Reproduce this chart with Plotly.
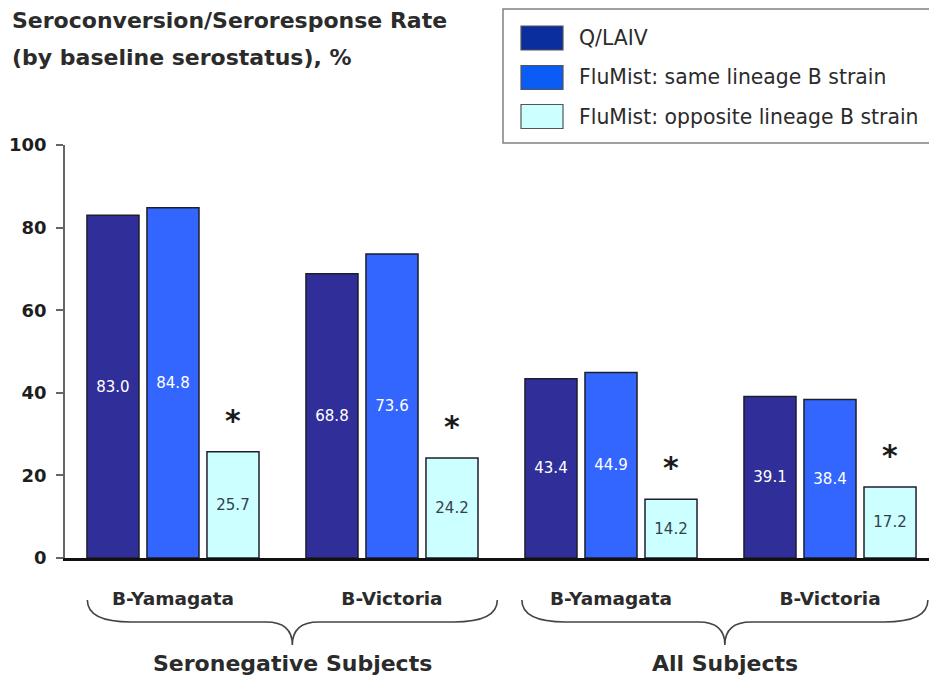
import plotly.graph_objects as go

# --- data ---------------------------------------------------------------
strains = ["B-Yamagata", "B-Victoria", "B-Yamagata", "B-Victoria"]
populations = ["Seronegative Subjects", "All Subjects"]
series_names = ["Q/LAIV", "FluMist: same lineage B strain", "FluMist: opposite lineage B strain"]
q_laiv = [83.0, 68.8, 43.4, 39.1]
same_lineage = [84.8, 73.6, 44.9, 38.4]
opposite_lineage = [25.7, 24.2, 14.2, 17.2]
significant = ["*", "*", "*", "*"]   # flags drawn above the opposite-lineage bars
y_ticks = [0, 20, 40, 60, 80, 100]

# --- styling ------------------------------------------------------------
bar_colors = ["#302F99", "#3366FF", "#CCFFFF"]
swatch_colors = ["#0B2E9E", "#0B5CF5", "#CCFFFF"]
label_colors = ["#FFFFFF", "#FFFFFF", "#33404A"]
FONT = "DejaVu Sans"
TEXT = "#2B2B2B"

W, H = 929, 675
ML, MR, MT, MB = 65, 0, 145, 117
PW, PH = W - ML - MR, H - MT - MB
BARGAP, GROUPGAP = 0.178, 0.133


def px_x(x):
    return (x - ML) / PW


def px_y(y):
    return (H - MB - y) / PH


x_pos = list(range(len(strains)))
series = [q_laiv, same_lineage, opposite_lineage]

fig = go.Figure()
for name, vals, col, lc in zip(series_names, series, bar_colors, label_colors):
    fig.add_trace(go.Bar(
        x=x_pos, y=vals, name=name, showlegend=False,
        marker=dict(color=col, line=dict(color="#1E1E2A", width=1.5)),
        text=[f"{v:.1f}" for v in vals], textposition="inside",
        insidetextanchor="middle", textangle=0,
        textfont=dict(family=FONT, size=15, color=lc),
        hoverinfo="skip",
    ))

# asterisks above the opposite-lineage bars
slot = (1 - BARGAP) / 3
for i, (v, mark) in enumerate(zip(opposite_lineage, significant)):
    fig.add_annotation(x=i + slot, y=v, xref="x", yref="y", text=mark,
                       showarrow=False, yanchor="bottom", yshift=12,
                       font=dict(family=FONT, size=30, color="#1A1A1A", weight="bold"))

# curly braces grouping the strains by population
brace_spans = [(0.545, 0.936), (2.52, 0.927)]   # (centre, half-width) in category units
d_end, d_tip = 0.2, 0.12
y_end, y_mid, y_tip = px_y(600), px_y(622), px_y(645)
for pop, (c, half) in zip(populations, brace_spans):
    x0, x1 = c - half, c + half
    path = (f"M {x0},{y_end} Q {x0},{y_mid} {x0 + d_end},{y_mid} "
            f"L {c - d_tip},{y_mid} Q {c},{y_mid} {c},{y_tip} "
            f"Q {c},{y_mid} {c + d_tip},{y_mid} "
            f"L {x1 - d_end},{y_mid} Q {x1},{y_mid} {x1},{y_end}")
    fig.add_shape(type="path", path=path, xref="x", yref="paper",
                  line=dict(color="#444", width=1.6))
    fig.add_annotation(x=c, y=px_y(663), xref="x", yref="paper", text=pop,
                       showarrow=False, yanchor="middle",
                       font=dict(family=FONT, size=22, color=TEXT, weight="bold"))

# title lines
for txt, yc in [("Seroconversion/Seroresponse Rate", 21),
                ("(by baseline serostatus), %", 57)]:
    fig.add_annotation(x=px_x(10), y=px_y(yc), xref="paper", yref="paper",
                       text=txt, showarrow=False, xanchor="left", yanchor="middle",
                       font=dict(family=FONT, size=22, color=TEXT, weight="bold"))

# legend box
fig.add_shape(type="rect", xref="paper", yref="paper",
              x0=px_x(503), x1=px_x(932), y0=px_y(143), y1=px_y(9),
              line=dict(color="#808080", width=1.5), fillcolor="white")
for name, col, yc in zip(series_names, swatch_colors, [38, 77.5, 116.5]):
    fig.add_shape(type="rect", xref="paper", yref="paper",
                  x0=px_x(521), x1=px_x(563), y0=px_y(yc + 12), y1=px_y(yc - 12),
                  line=dict(color="#555", width=1.2), fillcolor=col)
    fig.add_annotation(x=px_x(577), y=px_y(yc), xref="paper", yref="paper",
                       text=name, showarrow=False, xanchor="left", yanchor="middle",
                       font=dict(family=FONT, size=20.4, color=TEXT))

fig.update_layout(
    width=W, height=H,
    margin=dict(l=ML, r=MR, t=MT, b=MB, pad=0),
    paper_bgcolor="white", plot_bgcolor="white",
    barmode="group", bargap=BARGAP, bargroupgap=GROUPGAP,
    uniformtext=dict(minsize=8),
    xaxis=dict(range=[-0.493, 3.452], tickvals=x_pos, ticktext=strains,
               showline=True, linecolor="#111", linewidth=3, ticks="",
               showgrid=False, zeroline=False, ticklabelstandoff=22,
               tickfont=dict(family=FONT, size=18.5, color=TEXT, weight="bold")),
    yaxis=dict(range=[0, 100], tickvals=y_ticks, showline=True,
               linecolor="#666", linewidth=1.5, ticks="outside", ticklen=7,
               tickcolor="#666", tickwidth=1.5, showgrid=False, zeroline=False,
               ticklabelstandoff=6,
               tickfont=dict(family=FONT, size=18, color="#1E1E1E", weight="bold")),
)

fig.write_html("out.html")
